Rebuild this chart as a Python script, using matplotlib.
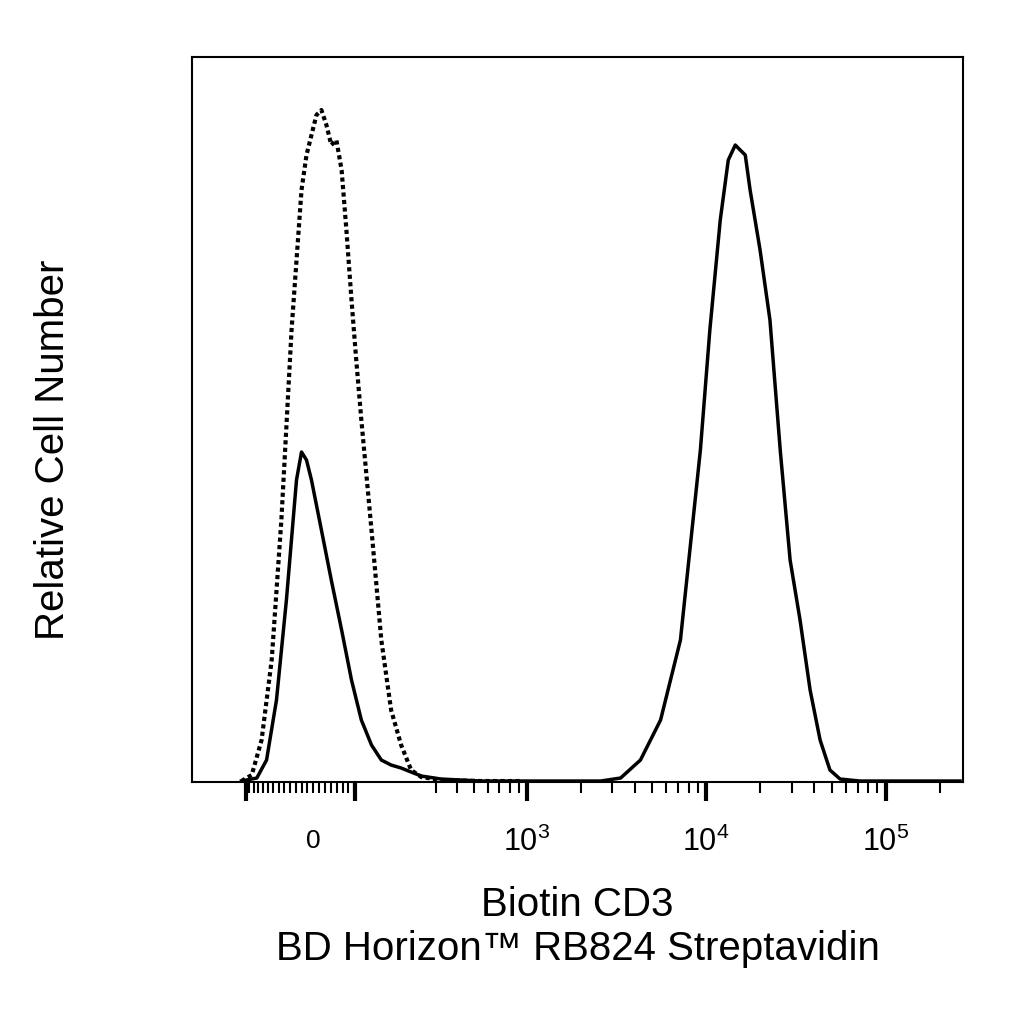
import numpy as np
import matplotlib.pyplot as plt

plt.rcParams['font.family'] = ['Liberation Sans', 'DejaVu Sans']
plt.rcParams['mathtext.fontset'] = 'custom'
plt.rcParams['mathtext.rm'] = 'Liberation Sans'

# fluorescence intensity (data units) and relative cell counts
unstained_x = [-138, -114, -93, -73, -55, -37, -20, -11.6, -3.3, 5, 13.3, 21.7, 30, 38.8, 48, 56.6, 66, 75, 85,
               106, 128, 152, 179, 209, 243, 321, 550, 926]
unstained_y = [1, 7, 42, 122, 262, 452, 592, 627, 647, 667, 672, 657, 637, 642, 612, 552, 482, 422, 362,
               252, 142, 72, 37, 12, 5, 2, 1, 1]

stained_x = [-138, -103, -83, -64, -46, -28.5, -20, -11.6, -3.3, 13.3, 30, 48, 66, 85, 106, 128, 152, 179, 209,
             243, 321, 550, 2590, 3340, 4310, 5580, 7200, 9300, 10500, 12000, 13300, 14550, 15500, 16540, 17600,
             20000, 22700, 25900, 29400, 33400, 38000, 43200, 49000, 55800, 72000, 260000]
stained_y = [1, 4, 22, 82, 182, 302, 330, 322, 302, 252, 202, 152, 102, 62, 37, 22, 17, 14, 10,
             6, 3, 1, 1, 4, 22, 62, 142, 332, 452, 562, 622, 637, 632, 627, 592,
             532, 462, 332, 222, 162, 92, 42, 12, 3, 1, 1]

W = 130.0
fwd = lambda x: np.arcsinh(np.asarray(x) / W) / np.log(10)
inv = lambda y: W * np.sinh(np.asarray(y) * np.log(10))

fig = plt.figure(figsize=(10.24, 10.24), dpi=100)
ax = fig.add_axes([0.1875, 0.2363, 0.7529, 0.708])
ax.set_xscale('function', functions=(fwd, inv))
ax.plot(unstained_x, unstained_y, color='black', lw=3, ls=(0, (1, 0.8)))
ax.plot(stained_x, stained_y, color='black', lw=2.5)
ax.set_xlim(-295, 270000)
ax.set_ylim(0, 725)
ax.set_yticks([])

major = [-126, 72, 1000, 10000, 100000]
ax.set_xticks(major)
ax.set_xticklabels(['', '', '$10^3$', '$10^4$', '$10^5$'])
minor = list(range(-120, 80, 10)) + [300, 400, 500, 600, 700, 800, 900] + \
        [2000, 3000, 4000, 5000, 6000, 7000, 8000, 9000] + \
        [20000, 30000, 40000, 50000, 60000, 70000, 80000, 90000, 200000]
ax.set_xticks(minor, minor=True)
ax.tick_params(axis='x', which='major', length=14, width=3, labelsize=22, pad=18)
ax.tick_params(axis='x', which='minor', length=8, width=1.5)
ax.text(0, -0.082, '0', transform=ax.get_xaxis_transform(), ha='center', va='center', fontsize=19)
for s in ax.spines.values():
    s.set_linewidth(1.5)

ax.set_ylabel('Relative Cell Number', fontsize=29)
ax.yaxis.set_label_coords(-0.155, 0.458)
ax.set_xlabel('Biotin CD3\nBD Horizon™ RB824 Streptavidin', fontsize=29, labelpad=20, linespacing=1.2)
fig.savefig('out.png')
